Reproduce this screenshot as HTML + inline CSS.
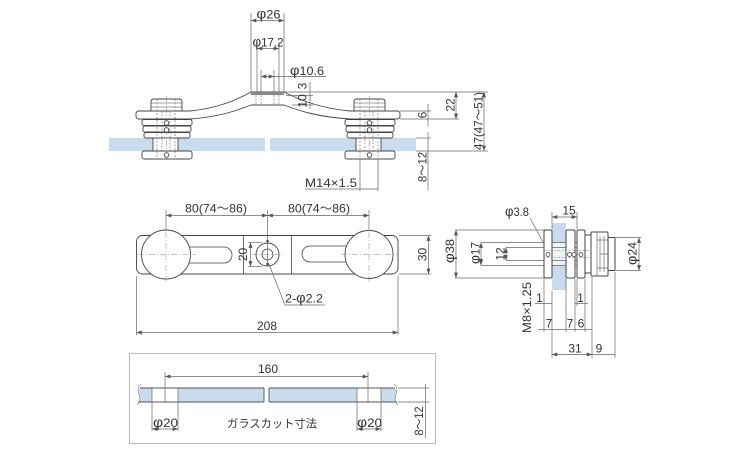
<!DOCTYPE html>
<html><head><meta charset="utf-8">
<style>
html,body{margin:0;padding:0;background:#fff;}
svg{display:block;}
text{font-family:"Liberation Sans","Noto Sans CJK JP",sans-serif;font-size:12px;fill:#333;}
.p{font-size:14px;}
</style></head><body>
<svg width="750" height="450" viewBox="0 0 750 450" xmlns="http://www.w3.org/2000/svg">
<defs>
<marker id="a" viewBox="0 0 8 6" refX="8" refY="3" markerWidth="5.5" markerHeight="4" orient="auto-start-reverse" markerUnits="userSpaceOnUse">
<path d="M0,0 L8,3 L0,6 z" fill="#555"/>
</marker>
</defs>

<!-- ================= TOP (ELEVATION) VIEW ================= -->
<rect x="109" y="138" width="156" height="13" fill="#c9dcee"/>
<rect x="270" y="138" width="146" height="13" fill="#c9dcee"/>

<path d="M139,111 L190,111 C220,108 238,99 251,92 L284,92 C298,99 318,108 350,111 L397,111 Q400,111 400,114 L400,116 Q400,119 397,119 L350,119 C318,117 300,111 284,105 L251,105 C236,111 218,117 190,119 L139,119 Q136,119 136,116 L136,114 Q136,111 139,111 Z" fill="#fff" stroke="#444" stroke-width="0.9"/>
<rect x="251" y="92" width="33" height="3" fill="#888"/>
<g stroke="#666" stroke-width="0.6" stroke-dasharray="2,1.5">
<line x1="256" y1="95" x2="256" y2="105"/>
<line x1="261" y1="95" x2="261" y2="105"/>
<line x1="274" y1="95" x2="274" y2="105"/>
<line x1="279" y1="95" x2="279" y2="105"/>
</g>

<!-- left fitting -->
<g transform="translate(166,0)" stroke="#444" stroke-width="0.9" fill="#fff">
<path d="M-15,111 L-15,102 Q-15,99 -12,99 L13,99 Q16,99 16,102 L16,111 Z"/>
<line x1="-15" y1="103" x2="16" y2="103" stroke-width="0.6"/>
<line x1="-15" y1="107" x2="16" y2="107" stroke-width="0.6"/>
<rect x="-24" y="119.5" width="50" height="6" rx="2"/>
<rect x="-23" y="126" width="48" height="6" rx="2"/>
<rect x="-22" y="132.5" width="46" height="5.5" rx="2"/>
<rect x="-13" y="138" width="25" height="13"/>
<rect x="-24" y="151" width="50" height="8" rx="2"/>
<g stroke-dasharray="2,1.5" stroke-width="0.6" fill="none" stroke="#666">
<line x1="-9" y1="99" x2="-9" y2="159"/>
<line x1="-4" y1="111" x2="-4" y2="151"/>
<line x1="4" y1="111" x2="4" y2="151"/>
<line x1="9" y1="99" x2="9" y2="159"/>
</g>
<line x1="0.5" y1="96" x2="0.5" y2="162" stroke="#777" stroke-width="0.5" stroke-dasharray="6,2,1,2"/>
<circle cx="0.5" cy="123" r="2.3"/>
<circle cx="0.5" cy="130" r="2.3"/>
<circle cx="0.5" cy="155" r="2.3"/>
</g>

<!-- right fitting -->
<g transform="translate(369,0)" stroke="#444" stroke-width="0.9" fill="#fff">
<path d="M-15,111 L-15,102 Q-15,99 -12,99 L13,99 Q16,99 16,102 L16,111 Z"/>
<line x1="-15" y1="103" x2="16" y2="103" stroke-width="0.6"/>
<line x1="-15" y1="107" x2="16" y2="107" stroke-width="0.6"/>
<rect x="-24" y="119.5" width="50" height="6" rx="2"/>
<rect x="-23" y="126" width="48" height="6" rx="2"/>
<rect x="-22" y="132.5" width="46" height="5.5" rx="2"/>
<rect x="-13" y="138" width="25" height="13"/>
<rect x="-24" y="151" width="50" height="8" rx="2"/>
<g stroke-dasharray="2,1.5" stroke-width="0.6" fill="none" stroke="#666">
<line x1="-9" y1="99" x2="-9" y2="159"/>
<line x1="-4" y1="111" x2="-4" y2="151"/>
<line x1="4" y1="111" x2="4" y2="151"/>
<line x1="9" y1="99" x2="9" y2="159"/>
</g>
<line x1="0.5" y1="96" x2="0.5" y2="162" stroke="#777" stroke-width="0.5" stroke-dasharray="6,2,1,2"/>
<circle cx="0.5" cy="123" r="2.3"/>
<circle cx="0.5" cy="130" r="2.3"/>
<circle cx="0.5" cy="155" r="2.3"/>
</g>

<!-- top dims -->
<g fill="none" stroke="#666" stroke-width="0.7">
<line x1="251" y1="13" x2="251" y2="92"/>
<line x1="284" y1="13" x2="284" y2="92"/>
<line x1="251" y1="20.5" x2="284" y2="20.5" marker-start="url(#a)" marker-end="url(#a)"/>
<line x1="257" y1="42" x2="257" y2="92"/>
<line x1="279" y1="42" x2="279" y2="92"/>
<line x1="257" y1="48.5" x2="279" y2="48.5" marker-start="url(#a)" marker-end="url(#a)"/>
<line x1="261" y1="70" x2="261" y2="92"/>
<line x1="274" y1="70" x2="274" y2="92"/>
<line x1="261" y1="76.5" x2="274" y2="76.5" marker-start="url(#a)" marker-end="url(#a)"/>
<line x1="274" y1="76.5" x2="326" y2="76.5"/>
<line x1="310" y1="82" x2="310" y2="109"/>
<line x1="286" y1="95.5" x2="313" y2="95.5"/>
<line x1="292" y1="105" x2="313" y2="105"/>
<line x1="284" y1="92" x2="488" y2="92"/>
<line x1="400" y1="111" x2="431" y2="111"/>
<line x1="400" y1="119" x2="459" y2="119"/>
<line x1="416" y1="138" x2="431" y2="138"/>
<line x1="416" y1="151" x2="488" y2="151"/>
<line x1="456" y1="92" x2="456" y2="119" marker-start="url(#a)" marker-end="url(#a)"/>
<line x1="428" y1="104" x2="428" y2="126"/>
<line x1="484" y1="92" x2="484" y2="151" marker-start="url(#a)" marker-end="url(#a)"/>
<line x1="428" y1="132" x2="428" y2="190"/>
<line x1="360" y1="159" x2="360" y2="191"/>
<line x1="378" y1="159" x2="378" y2="191"/>
<line x1="305" y1="189" x2="378" y2="189"/>
</g>
<text x="268.5" y="18.5" text-anchor="middle" textLength="24" lengthAdjust="spacingAndGlyphs"><tspan class="p">φ</tspan>26</text>
<text x="268" y="46.5" text-anchor="middle" textLength="31" lengthAdjust="spacingAndGlyphs"><tspan class="p">φ</tspan>17.2</text>
<text x="290" y="75" textLength="34" lengthAdjust="spacingAndGlyphs"><tspan class="p">φ</tspan>10.6</text>
<text transform="translate(306.5,86) rotate(-90)" text-anchor="middle">3</text>
<text transform="translate(306.5,101) rotate(-90)" text-anchor="middle">10</text>
<text transform="translate(454.5,105) rotate(-90)" text-anchor="middle">22</text>
<text transform="translate(426.5,115) rotate(-90)" text-anchor="middle">6</text>
<text transform="translate(482.5,121) rotate(-90)" text-anchor="middle" textLength="58" lengthAdjust="spacingAndGlyphs">47(47～51)</text>
<text transform="translate(426.5,167) rotate(-90)" text-anchor="middle" textLength="30" lengthAdjust="spacingAndGlyphs">8～12</text>
<text x="305" y="187" textLength="52" lengthAdjust="spacingAndGlyphs">M14×1.5</text>

<!-- ================= PLAN VIEW ================= -->
<rect x="136.5" y="235.5" width="261.5" height="38.5" rx="6" fill="#fff" stroke="#444" stroke-width="0.9"/>
<rect x="180" y="247" width="52" height="16" rx="8" fill="#fff" stroke="#444" stroke-width="0.8"/>
<rect x="302" y="246" width="53" height="16" rx="8" fill="#fff" stroke="#444" stroke-width="0.8"/>
<line x1="243.5" y1="235.5" x2="243.5" y2="274" stroke="#444" stroke-width="0.8"/>
<line x1="291.5" y1="235.5" x2="291.5" y2="274" stroke="#444" stroke-width="0.8"/>
<circle cx="166" cy="254.5" r="24.5" fill="#fff" stroke="#444" stroke-width="0.9"/>
<circle cx="369" cy="254.5" r="24" fill="#fff" stroke="#444" stroke-width="0.9"/>
<circle cx="267.5" cy="254.5" r="11.5" fill="#fff" stroke="#444" stroke-width="0.9"/>
<circle cx="267.5" cy="254.5" r="5.5" fill="none" stroke="#444" stroke-width="0.8"/>
<circle cx="267.5" cy="241" r="1.3" fill="#444"/>
<circle cx="267.5" cy="264" r="1.3" fill="#444"/>
<g stroke="#888" stroke-width="0.5" stroke-dasharray="6,2,1,2" fill="none">
<line x1="138" y1="254.5" x2="196" y2="254.5"/>
<line x1="341" y1="254.5" x2="398" y2="254.5"/>
<line x1="252" y1="254.5" x2="284" y2="254.5"/>
<line x1="166" y1="232" x2="166" y2="282"/>
<line x1="369" y1="232" x2="369" y2="282"/>
</g>
<g fill="none" stroke="#666" stroke-width="0.7">
<line x1="166" y1="210" x2="166" y2="231"/>
<line x1="267.5" y1="210" x2="267.5" y2="266"/>
<line x1="369" y1="210" x2="369" y2="231"/>
<line x1="166" y1="215.5" x2="267.5" y2="215.5" marker-start="url(#a)" marker-end="url(#a)"/>
<line x1="267.5" y1="215.5" x2="369" y2="215.5" marker-start="url(#a)" marker-end="url(#a)"/>
<line x1="248" y1="242.5" x2="262" y2="242.5"/>
<line x1="248" y1="266.5" x2="262" y2="266.5"/>
<line x1="250.5" y1="242.5" x2="250.5" y2="266.5" marker-start="url(#a)" marker-end="url(#a)"/>
<line x1="268.5" y1="263" x2="285" y2="305"/>
<line x1="285" y1="305" x2="325" y2="305"/>
<line x1="399" y1="235.5" x2="431" y2="235.5"/>
<line x1="399" y1="274" x2="431" y2="274"/>
<line x1="428.5" y1="235.5" x2="428.5" y2="274" marker-start="url(#a)" marker-end="url(#a)"/>
<line x1="136.5" y1="276" x2="136.5" y2="335"/>
<line x1="398" y1="276" x2="398" y2="335"/>
<line x1="136.5" y1="332.5" x2="398" y2="332.5" marker-start="url(#a)" marker-end="url(#a)"/>
</g>
<text x="216" y="212.5" text-anchor="middle" textLength="62" lengthAdjust="spacingAndGlyphs">80(74～86)</text>
<text x="319" y="212.5" text-anchor="middle" textLength="62" lengthAdjust="spacingAndGlyphs">80(74～86)</text>
<text transform="translate(247,254.5) rotate(-90)" text-anchor="middle">20</text>
<text x="285" y="302.5" textLength="38" lengthAdjust="spacingAndGlyphs">2-<tspan class="p">φ</tspan>2.2</text>
<text transform="translate(426.5,254.5) rotate(-90)" text-anchor="middle">30</text>
<text x="267" y="330" text-anchor="middle">208</text>

<!-- ================= SIDE VIEW ================= -->
<rect x="552" y="223" width="14" height="67" fill="#c9dcee"/>
<rect x="552" y="243" width="14" height="22" fill="#eef3f8"/>
<g fill="none" stroke="#666" stroke-width="0.7">
<line x1="455" y1="230" x2="546" y2="230"/>
<line x1="455" y1="278" x2="546" y2="278"/>
<line x1="481" y1="242.5" x2="590" y2="242.5"/>
<line x1="481" y1="265.5" x2="590" y2="265.5"/>
<line x1="506" y1="247.5" x2="590" y2="247.5"/>
<line x1="506" y1="260.5" x2="590" y2="260.5"/>
<line x1="456" y1="230" x2="456" y2="278" marker-start="url(#a)" marker-end="url(#a)"/>
<line x1="481" y1="242.5" x2="481" y2="265.5" marker-start="url(#a)" marker-end="url(#a)"/>
<line x1="506" y1="247.5" x2="506" y2="260.5" marker-start="url(#a)" marker-end="url(#a)"/>
</g>
<g stroke="#444" stroke-width="1" fill="#fff">
<rect x="544" y="230" width="8" height="48" rx="1.5"/>
<rect x="566" y="230" width="9" height="48" rx="1.5"/>
<rect x="577" y="230" width="8" height="48" rx="1.5"/>
<rect x="585" y="235" width="6" height="38"/>
<rect x="591" y="232" width="17" height="44" rx="1"/>
<rect x="608" y="237.5" width="7" height="33"/>
</g>
<g stroke="#555" stroke-width="0.6" fill="none">
<line x1="597" y1="232" x2="597" y2="276"/>
<line x1="600" y1="236" x2="600" y2="272"/>
<line x1="604" y1="236" x2="604" y2="272"/>
<line x1="597" y1="240" x2="608" y2="240"/>
<line x1="597" y1="268" x2="608" y2="268"/>
<line x1="600" y1="254" x2="608" y2="254"/>
</g>
<g stroke="#777" stroke-width="0.6" stroke-dasharray="2,1.5" fill="none">
<line x1="544" y1="250.5" x2="590" y2="250.5"/>
<line x1="544" y1="257.5" x2="590" y2="257.5"/>
</g>
<g fill="#fff" stroke="#444" stroke-width="0.8">
<circle cx="548" cy="254.5" r="2"/>
<circle cx="569.5" cy="254.5" r="2"/>
<circle cx="574" cy="254.5" r="2"/>
<circle cx="581" cy="254.5" r="2"/>
</g>
<g fill="none" stroke="#666" stroke-width="0.7">
<line x1="530" y1="218" x2="543" y2="242"/>
<line x1="552" y1="212" x2="552" y2="229"/>
<line x1="577" y1="212" x2="577" y2="229"/>
<line x1="552" y1="217" x2="577" y2="217" marker-start="url(#a)" marker-end="url(#a)"/>
<line x1="616" y1="237.5" x2="641" y2="237.5"/>
<line x1="616" y1="270.5" x2="641" y2="270.5"/>
<line x1="639" y1="237.5" x2="639" y2="270.5" marker-start="url(#a)" marker-end="url(#a)"/>
<line x1="544" y1="279" x2="544" y2="332"/>
<line x1="552" y1="291" x2="552" y2="358"/>
<line x1="566" y1="279" x2="566" y2="332"/>
<line x1="575" y1="279" x2="575" y2="332"/>
<line x1="577" y1="279" x2="577" y2="306"/>
<line x1="585" y1="279" x2="585" y2="332"/>
<line x1="592" y1="277" x2="592" y2="358"/>
<line x1="615" y1="272" x2="615" y2="358"/>
<line x1="535" y1="303.5" x2="552" y2="303.5"/>
<line x1="575" y1="303.5" x2="588" y2="303.5"/>
<line x1="538" y1="329.5" x2="592" y2="329.5"/>
<line x1="552" y1="354.5" x2="592" y2="354.5" marker-start="url(#a)" marker-end="url(#a)"/>
<line x1="592" y1="354.5" x2="615" y2="354.5"/>
</g>
<text x="505" y="216" textLength="24" lengthAdjust="spacingAndGlyphs"><tspan class="p">φ</tspan>3.8</text>
<text x="569" y="214.5" text-anchor="middle">15</text>
<text transform="translate(454,251) rotate(-90)" text-anchor="middle" textLength="24" lengthAdjust="spacingAndGlyphs"><tspan class="p">φ</tspan>38</text>
<text transform="translate(479.5,253) rotate(-90)" text-anchor="middle" textLength="22" lengthAdjust="spacingAndGlyphs"><tspan class="p">φ</tspan>17</text>
<text transform="translate(504.5,254) rotate(-90)" text-anchor="middle">12</text>
<text transform="translate(636.5,253.5) rotate(-90)" text-anchor="middle" textLength="23" lengthAdjust="spacingAndGlyphs"><tspan class="p">φ</tspan>24</text>
<text transform="translate(531,307.5) rotate(-90)" text-anchor="middle" textLength="51" lengthAdjust="spacingAndGlyphs">M8×1.25</text>
<text x="539.5" y="302" text-anchor="middle">1</text>
<text x="580.5" y="302" text-anchor="middle">1</text>
<text x="549" y="327.5" text-anchor="middle">7</text>
<text x="570" y="327.5" text-anchor="middle">7</text>
<text x="581" y="327.5" text-anchor="middle">6</text>
<text x="575" y="352.5" text-anchor="middle">31</text>
<text x="599" y="352.5" text-anchor="middle">9</text>

<!-- ================= GLASS CUT VIEW ================= -->
<rect x="129.5" y="353.5" width="306" height="90" fill="none" stroke="#bbb" stroke-width="1"/>
<path d="M140,388 C135,392 143,398 138,402 L152,402 L152,388 Z" fill="#c9dcee"/>
<rect x="178" y="388" width="86" height="14" fill="#c9dcee"/>
<rect x="269" y="388" width="88" height="14" fill="#c9dcee"/>
<path d="M381,388 L395,388 C399,392 392,398 397,402 L381,402 Z" fill="#c9dcee"/>
<g fill="none" stroke="#555" stroke-width="0.9">
<line x1="140" y1="388" x2="264" y2="388"/>
<line x1="138" y1="402" x2="264" y2="402"/>
<line x1="269" y1="388" x2="395" y2="388"/>
<line x1="269" y1="402" x2="397" y2="402"/>
<line x1="264" y1="388" x2="264" y2="402"/>
<line x1="269" y1="388" x2="269" y2="402"/>
<path d="M141,384 C133,390 145,398 137,405" stroke="#888" stroke-width="0.7"/>
<path d="M394,384 C402,390 390,398 398,405" stroke="#888" stroke-width="0.7"/>
</g>
<g fill="none" stroke="#666" stroke-width="0.7">
<line x1="152" y1="388" x2="152" y2="431"/>
<line x1="178" y1="388" x2="178" y2="431"/>
<line x1="357" y1="388" x2="357" y2="431"/>
<line x1="381" y1="388" x2="381" y2="431"/>
<line x1="165" y1="372" x2="165" y2="402"/>
<line x1="368" y1="372" x2="368" y2="402"/>
<line x1="165" y1="376.5" x2="368" y2="376.5" marker-start="url(#a)" marker-end="url(#a)"/>
<line x1="152" y1="429" x2="178" y2="429" marker-start="url(#a)" marker-end="url(#a)"/>
<line x1="357" y1="429" x2="381" y2="429" marker-start="url(#a)" marker-end="url(#a)"/>
<line x1="398" y1="388" x2="429" y2="388"/>
<line x1="398" y1="402" x2="429" y2="402"/>
<line x1="425.5" y1="384" x2="425.5" y2="438"/>
</g>
<text x="268" y="373" text-anchor="middle">160</text>
<text x="153" y="427" textLength="25" lengthAdjust="spacingAndGlyphs"><tspan class="p">φ</tspan>20</text>
<text x="357" y="427" textLength="25" lengthAdjust="spacingAndGlyphs"><tspan class="p">φ</tspan>20</text>
<text x="272" y="427.5" text-anchor="middle" textLength="90" lengthAdjust="spacingAndGlyphs" style="font-size:11.5px">ガラスカット寸法</text>
<text transform="translate(423,421) rotate(-90)" text-anchor="middle" textLength="29" lengthAdjust="spacingAndGlyphs">8～12</text>
</svg>
</body></html>
